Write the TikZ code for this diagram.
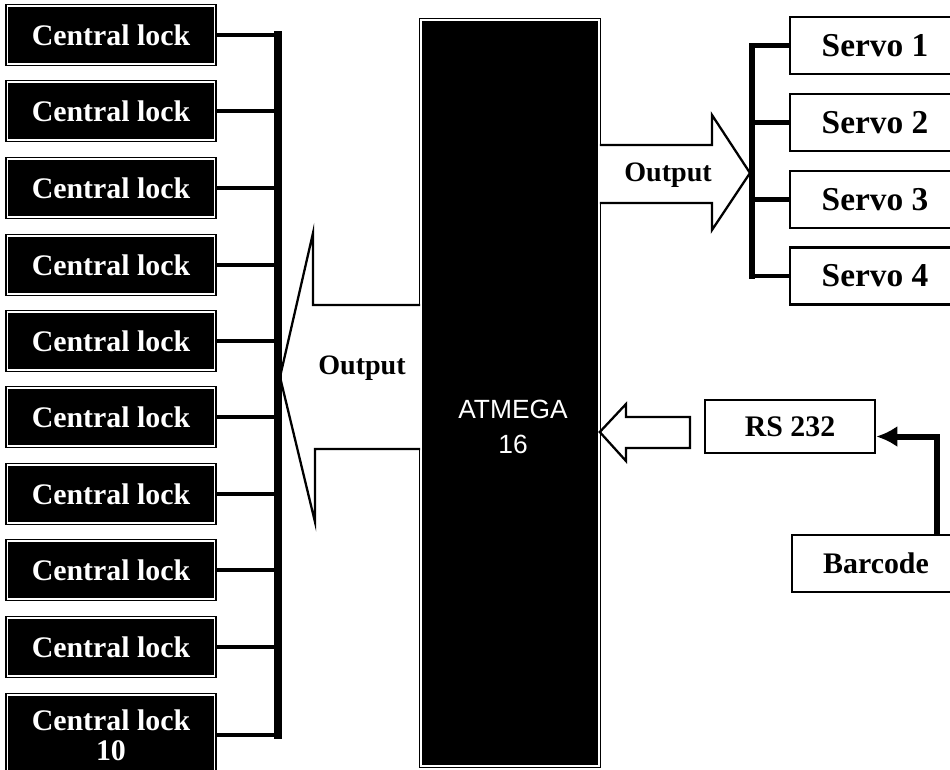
\documentclass[tikz,border=0pt]{standalone}
\usepackage{fontspec}
\setmainfont{Liberation Serif}
\newfontfamily\mcufont{Liberation Sans}
\usetikzlibrary{calc, arrows.meta}

\tikzset{
  lockbox/.style={draw=black,double=white,double distance=0.8pt,line width=0.9pt,
    fill=black,text=white,minimum width=4.14cm,minimum height=1.16cm,inner sep=0pt,
    align=center,font=\fontsize{17}{17}\selectfont\bfseries},
  mcubox/.style={draw=black,double=white,double distance=0.8pt,line width=0.9pt,
    fill=black,minimum width=3.56cm,minimum height=14.92cm,inner sep=0pt},
  whitebox/.style={draw,line width=1.4pt,fill=white,inner sep=0pt,
    font=\fontsize{17}{18}\selectfont\bfseries},
  bigarrow/.style={draw,fill=white,line width=1.3pt,line join=miter},
  lbl/.style={font=\fontsize{16}{17}\selectfont\bfseries},
  bus/.style={line width=4.5pt,line cap=rect},
  stub/.style={line width=2.8pt},
}

\begin{document}
\begin{tikzpicture}[x=0.02cm,y=-0.02cm]
\useasboundingbox (0,0) rectangle (950,769);
\node[mcubox] (mcu) at (510,393) {};
\node[align=center,text=white,font=\mcufont\fontsize{15}{20}\selectfont] (mcutxt) at (513,427) {ATMEGA\\16};
\foreach \y [count=\i] in {45.5,122.5,199.5,276}
  \node[whitebox,minimum width=3.4cm,minimum height=1.14cm,font=\fontsize{19}{20}\selectfont\bfseries] (sv\i) at (875,\y) {Servo \i};
\node[whitebox,minimum width=3.4cm,minimum height=1.06cm] (rs) at (790,426.5) {RS 232};
\node[whitebox,minimum width=3.36cm,minimum height=1.14cm] (bc) at (876,563.5) {Barcode};
\foreach \y [count=\i] in {35,111,188,265,341,417,494,570,647}
  \node[lockbox] (lk\i) at (111,\y) {Central lock};
\node[lockbox,minimum height=1.6cm] (lk10) at (111,735) {Central lock\\10};
\coordinate (bt) at (278,35);
\coordinate (bb) at (278,735);
\coordinate (st) at (752,45.5);
\coordinate (sb) at (752,276);
\draw[bigarrow] (mcu.west |- 0,305) -- (313,305) -- (313,233) -- (280,377) -- (315,522) -- (315,449) -- (mcu.west |- 0,449);
\draw[bigarrow] (mcu.east |- 0,145) -- (712,145) -- (712,115) -- (750,173) -- (712,230) -- (712,203) -- (mcu.east |- 0,203);
\draw[bigarrow] (mcu.east |- 0,432) -- (626,404) -- (626,417) -- (690,417) -- (690,448) -- (626,448) -- (626,461) -- cycle;
\node[lbl] (outl) at (362,368) {Output};
\node[lbl] (outr) at (668,175) {Output};
\foreach \i in {1,...,10}
  \draw[stub] (lk\i.east) -- (lk\i.east -| bt);
\draw[bus] (bt) -- (bb);
\foreach \i in {1,...,4}
  \draw[line width=2.4pt] (sv\i.west) -- (sv\i.west -| st);
\draw[line width=3pt,line cap=rect] (st) -- (sb);
\draw[line width=3.4pt,-{Latex[length=12pt,width=12pt]}] (bc.north -| 937,0) |- ($(rs.east)+(0,10)$);
\end{tikzpicture}
\end{document}
